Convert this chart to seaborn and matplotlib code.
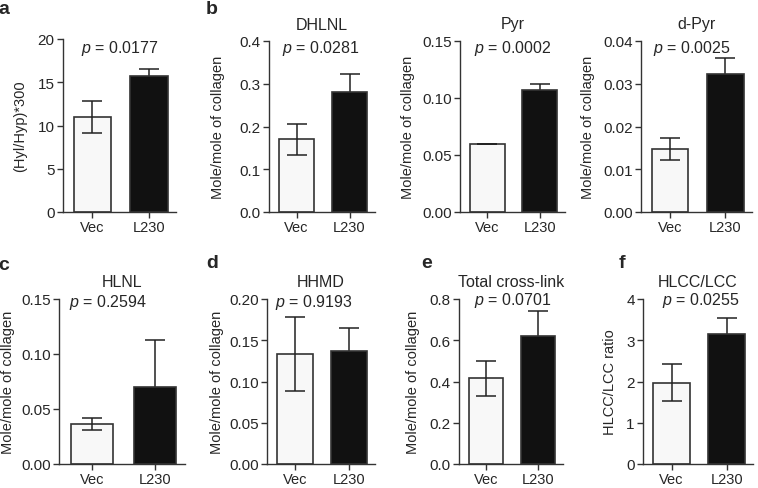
import pandas as pd
import matplotlib
matplotlib.use('Agg')
import matplotlib.pyplot as plt
import seaborn as sns

# groups and read-off values (mean, sem) per panel
groups = ['Vec', 'L230']

hyl_mean = [11.0, 15.7]
hyl_err = [1.85, 0.8]
dhlnl_mean = [0.170, 0.280]
dhlnl_err = [0.036, 0.043]
pyr_mean = [0.060, 0.107]
pyr_err = [0.0, 0.005]
dpyr_mean = [0.0147, 0.0323]
dpyr_err = [0.0025, 0.0037]
hlnl_mean = [0.0365, 0.070]
hlnl_err = [0.0055, 0.043]
hhmd_mean = [0.133, 0.137]
hhmd_err = [0.045, 0.028]
total_mean = [0.415, 0.622]
total_err = [0.085, 0.118]
ratio_mean = [1.97, 3.15]
ratio_err = [0.45, 0.38]

sns.set_style('ticks')
plt.rcParams['font.family'] = ['Liberation Sans', 'DejaVu Sans']
plt.rcParams['mathtext.fontset'] = 'custom'
plt.rcParams['mathtext.it'] = 'Liberation Sans:italic'
plt.rcParams['mathtext.rm'] = 'Liberation Sans'

W, H = 758, 489
fig = plt.figure(figsize=(W / 100, H / 100), dpi=100)

# letter, title, p value, means, errs, yticks, tick format, ylabel,
# box (left, right, top, bottom in px), letter pos, ylabel x, p text x, p text y
panels = [
    ('a', '', '0.0177', hyl_mean, hyl_err, [0, 5, 10, 15, 20], '%g', '(Hyl/Hyp)*300',
     (63, 176, 40, 213), (4, 10), 20, 120, 48),
    ('b', 'DHLNL', '0.0281', dhlnl_mean, dhlnl_err, [0, 0.1, 0.2, 0.3, 0.4], '%.1f', 'Mole/mole of collagen',
     (269, 375, 42, 213), (212, 10), 218, 321, 48),
    ('', 'Pyr', '0.0002', pyr_mean, pyr_err, [0, 0.05, 0.10, 0.15], '%.2f', 'Mole/mole of collagen',
     (460, 565, 42, 213), None, 408, 513, 48),
    ('', 'd-Pyr', '0.0025', dpyr_mean, dpyr_err, [0, 0.01, 0.02, 0.03, 0.04], '%.2f', 'Mole/mole of collagen',
     (641, 752, 42, 213), None, 588, 692, 48),
    ('c', 'HLNL', '0.2594', hlnl_mean, hlnl_err, [0, 0.05, 0.10, 0.15], '%.2f', 'Mole/mole of collagen',
     (59, 185, 300, 465), (4, 265), 8, 108, 302),
    ('d', 'HHMD', '0.9193', hhmd_mean, hhmd_err, [0, 0.05, 0.10, 0.15, 0.20], '%.2f', 'Mole/mole of collagen',
     (267, 375, 300, 465), (212, 263), 217, 314, 302),
    ('e', 'Total cross-link', '0.0701', total_mean, total_err, [0, 0.2, 0.4, 0.6, 0.8], '%.1f', 'Mole/mole of collagen',
     (459, 563, 300, 465), (427, 264), 413, 513, 300),
    ('f', 'HLCC/LCC', '0.0255', ratio_mean, ratio_err, [0, 1, 2, 3, 4], '%g', 'HLCC/LCC ratio',
     (643, 753, 300, 465), (622, 264), 610, 701, 300),
]

edge = '#333333'
for (letter, title, pval, means, errs, yticks, fmt, ylabel, box, lpos, ylx, px, py) in panels:
    l, r, t, b = box
    ax = fig.add_axes([l / W, 1 - b / H, (r - l) / W, (b - t) / H])
    df = pd.DataFrame({'group': groups, 'value': means})
    sns.barplot(data=df, x='group', y='value', hue='group', ax=ax,
                palette=['#f8f8f8', '#111111'], edgecolor=edge, linewidth=1.2,
                width=0.66, legend=False)
    ax.errorbar([0, 1], means, yerr=errs, fmt='none', ecolor='#222222',
                elinewidth=1.1, capsize=7.5, capthick=1.1, zorder=1)
    # L230 bar hides the lower half of its errorbar, Vec bar stays under it
    ax.patches[0].set_zorder(0)
    ax.patches[1].set_zorder(2)
    ax.set_xlim(-0.52, 1.48)
    ax.set_ylim(yticks[0], yticks[-1])
    ax.set_yticks(yticks)
    ax.set_yticklabels([fmt % v for v in yticks])
    ax.set_xlabel('')
    ax.set_ylabel('')
    sns.despine(ax=ax)
    for s in ['left', 'bottom']:
        ax.spines[s].set_color(edge)
        ax.spines[s].set_linewidth(1.0)
    ax.tick_params(axis='y', length=4, width=1, color=edge, labelsize=11, pad=2)
    ax.tick_params(axis='x', length=4, width=1, color=edge, labelsize=10.5, pad=2)
    cy = (t + b) / 2
    fig.text(ylx / W, 1 - cy / H, ylabel, rotation=90, ha='center', va='center', fontsize=10.5)
    fig.text(px / W, 1 - py / H, r'$p$ = ' + pval, ha='center', va='center', fontsize=11.5)
    if title:
        fig.text((l + r) / 2 / W, 1 - (t - 17) / H, title, ha='center', va='center', fontsize=11.5)
    if letter:
        fig.text(lpos[0] / W, 1 - lpos[1] / H, letter, ha='center', va='center',
                 fontsize=14, fontweight='bold')

fig.savefig('out.png', dpi=100)
